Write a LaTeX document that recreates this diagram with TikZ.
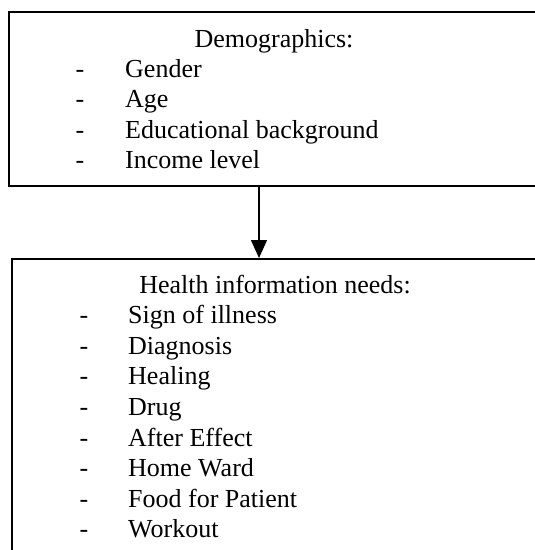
\documentclass[tikz,border=0pt]{standalone}
\usepackage{fontspec}
\setmainfont{Liberation Serif}
\usetikzlibrary{arrows.meta}

\tikzset{
  box/.style={draw, line width=1.5pt, anchor=north west, inner sep=0pt},
  txt/.style={font=\fontsize{26}{30}\selectfont, inner sep=0pt},
  head/.style={txt, anchor=base},
  entry/.style={txt, anchor=base west},
  hyph/.style={txt, anchor=base},
  flow/.style={line width=1.5pt, -{Triangle[width=16pt,length=18pt]}}
}

\begin{document}
\begin{tikzpicture}[x=1pt,y=-1pt]
\useasboundingbox (0,0) rectangle (535,550);
\clip (0,0) rectangle (535,550);

% upper box
\node[box, minimum width=600pt, minimum height=174pt] (demo) at (8,11) {};
\node[head] (demo-h) at (274,47) {Demographics:};
\foreach \i/\t in {1/Gender, 2/Age, 3/Educational background, 4/Income level} {
  \node[hyph] (demo-d\i) at (80,{47+30.4*\i}) {-};
  \node[entry] (demo-\i) at (125,{47+30.4*\i}) {\t};
}

% lower box
\node[box, minimum width=600pt, minimum height=400pt] (needs) at (11,258) {};
\node[head] (needs-h) at (275,293) {Health information needs:};
\foreach \i/\t in {1/Sign of illness, 2/Diagnosis, 3/Healing, 4/Drug,
                   5/After Effect, 6/Home Ward, 7/Food for Patient, 8/Workout} {
  \node[hyph] (needs-d\i) at (84,{293+30.6*\i}) {-};
  \node[entry] (needs-\i) at (128,{293+30.6*\i}) {\t};
}

% arrow between the boxes
\coordinate (ax) at (259,0);
\draw[flow] (demo.south -| ax) -- (needs.north -| ax);
\end{tikzpicture}
\end{document}
